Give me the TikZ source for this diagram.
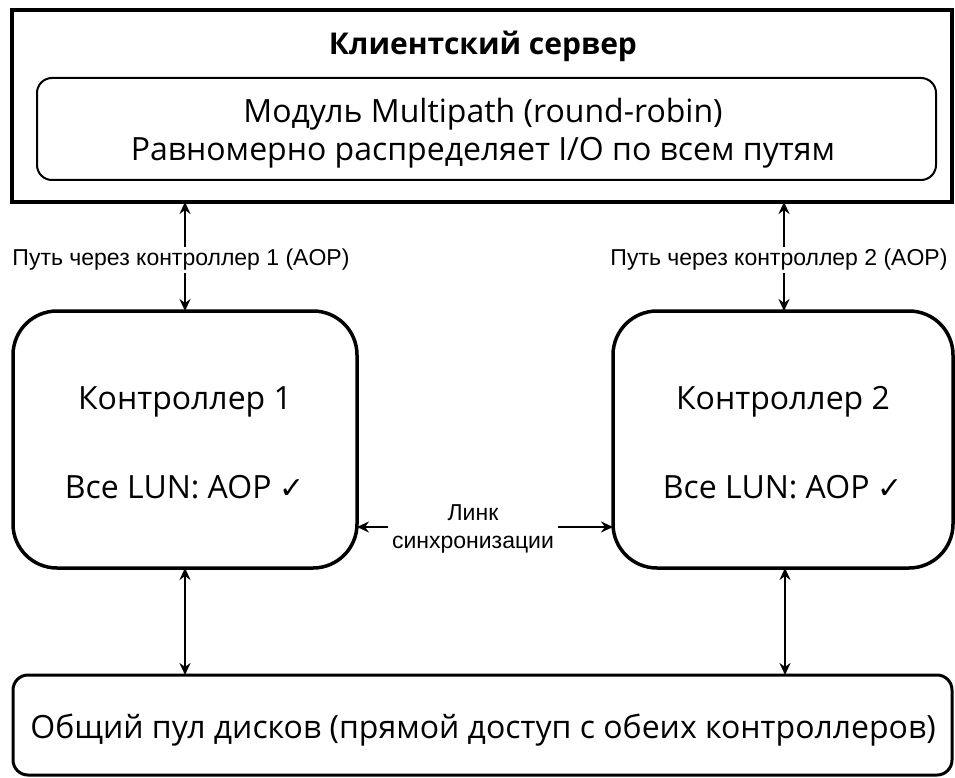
\documentclass[tikz,border=0pt]{standalone}
\usepackage{fontspec}
\setmainfont{Open Sans}
\newfontfamily\labfont{Liberation Sans}
\newfontfamily\symfont{DejaVu Sans}
\usetikzlibrary{arrows.meta}
\begin{document}
\begin{tikzpicture}[x=1pt,y=-1pt,
  every node/.style={inner sep=0pt,outer sep=0pt},
  mainbox/.style={draw,line width=3.5pt,rounded corners=44pt},
  serverbox/.style={draw,line width=4pt},
  modbox/.style={draw,line width=2pt,rounded corners=15pt},
  poolbox/.style={draw,line width=3pt,rounded corners=15pt},
  maintxt/.style={font=\fontsize{32}{38}\selectfont,align=center},
  labtxt/.style={font=\labfont\fontsize{23}{28}\selectfont,fill=white,align=center,inner sep=2pt},
  conn/.style={line width=2pt,{Stealth[length=12pt,width=11pt,inset=4pt]}-{Stealth[length=12pt,width=11pt,inset=4pt]}},
  oneway/.style={line width=2pt,-{Stealth[length=12pt,width=11pt,inset=4pt]}}
]
\useasboundingbox (0,0) rectangle (955,778);
% client server
\draw[serverbox] (12,10) rectangle (952,202);
\coordinate (srvL) at (185,202);
\coordinate (srvR) at (784,202);
\node[font=\bfseries\fontsize{30}{36}\selectfont] (title) at (483,46) {Клиентский сервер};
\draw[modbox] (37,78) rectangle (936,180);
\node[maintxt] (mod1) at (483,114) {Модуль Multipath (round-robin)};
\node[maintxt] (mod2) at (483,153) {Равномерно распределяет I/O по всем путям};
% controllers
\node[mainbox,minimum width=344pt,minimum height=257pt] (c1) at (185,439.5) {};
\node[mainbox,minimum width=340pt,minimum height=257pt] (c2) at (783,439.5) {};
\node[maintxt] (c1a) at (185,402) {Контроллер 1};
\node[maintxt] (c1b) at (185,487) {Все LUN: AOP {\symfont\fontsize{30}{36}\selectfont ✓}};
\node[maintxt] (c2a) at (783,402) {Контроллер 2};
\node[maintxt] (c2b) at (783,487) {Все LUN: AOP {\symfont\fontsize{30}{36}\selectfont ✓}};
% pool
\node[poolbox,minimum width=939pt,minimum height=100pt] (pool) at (482.5,725) {};
\node[maintxt] (pooltxt) at (483,730) {Общий пул дисков (прямой доступ с обеих контроллеров)};
% paths
\draw[conn] (srvL) -- (c1.north -| srvL);
\draw[conn] (srvR) -- (c2.north -| srvR);
\node[labtxt] (lab1) at (181,260) {Путь через контроллер 1 (AOP)};
\node[labtxt] (lab2) at (779,260) {Путь через контроллер 2 (AOP)};
% sync
\node[labtxt,fill=none] (sync) at (473,529) {Линк\\синхронизации};
\coordinate (s1) at (388,527);
\coordinate (s2) at (558,527);
\draw[oneway] (s1) -- (c1.east |- s1);
\draw[oneway] (s2) -- (c2.west |- s2);
% to pool
\coordinate (b2) at (785,568);
\draw[conn] (c1.south) -- (pool.north -| c1.south);
\draw[conn] (b2) -- (pool.north -| b2);
\end{tikzpicture}
\end{document}
